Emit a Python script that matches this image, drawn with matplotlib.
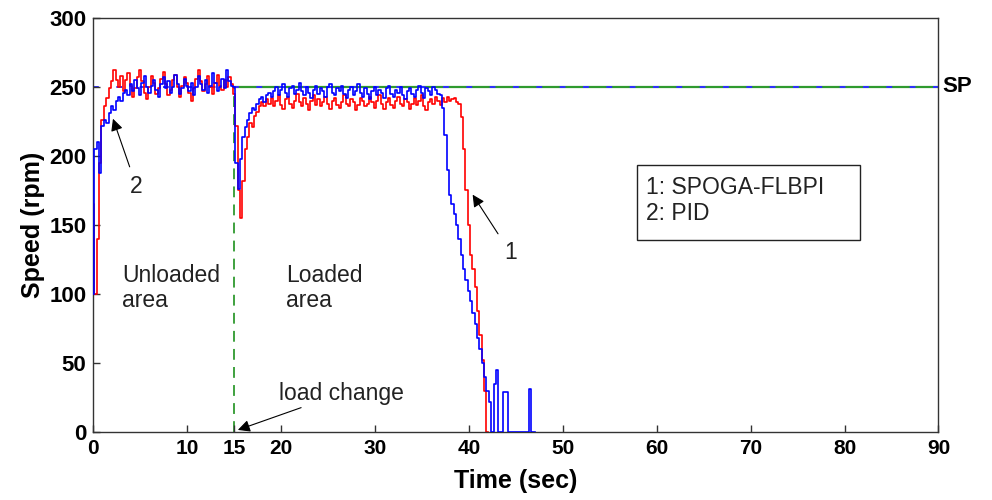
import numpy as np
import matplotlib
matplotlib.use("Agg")
import matplotlib.pyplot as plt
from matplotlib.patches import Rectangle

DT = 0.25  # sample step (s) used when reading the traces off the picture

# PID (curve 2, blue), samples every DT seconds starting at t = 0
pid_speed = [
    100, 205, 210, 188, 222, 226, 224, 231, 236, 233, 240, 243, 240, 246, 248, 244,
    252, 247, 255, 249, 244, 253, 258, 250, 246, 251,
    255, 248, 243, 252, 257, 249, 254, 246, 250, 259,
    252, 245, 249, 256, 251, 247, 253, 244, 250, 258,
    252, 248, 255, 246, 251, 260, 253, 247, 250, 256,
    249, 262, 254, 251,
    250, 195, 176, 198, 214, 221, 226, 231, 235, 233, 238, 241, 243, 239, 244, 246, 243,
    247, 250, 244, 248, 252, 246, 243, 249, 251, 245,
    248, 253, 247, 244, 250, 246, 242, 248, 251, 245,
    249, 247, 243, 250, 252, 246, 244, 249, 247, 251,
    245, 242, 248, 250, 244, 247, 252, 246, 243, 249,
    245, 241, 247, 250, 244, 248, 246, 242, 249, 251,
    245, 243, 248, 246, 250, 244, 241, 247, 249, 245,
    243, 248, 251, 246, 242, 249, 247, 244, 250, 248,
    245,
    244, 235, 215, 190, 172, 165, 158, 150, 140, 128, 118, 110, 102, 95, 86, 78,
    68, 60, 50, 40, 30, 22, 0, 35, 45, 0, 0, 29, 29, 0, 0, 0, 0, 0, 0, 0, 0, 0,
    31, 0, 0,
]

# SPOGA-FLBPI (curve 1, red), samples every DT seconds starting at t = 0
spoga_speed = [
    165, 100, 140, 195, 226, 236, 242, 249, 254, 262, 255, 250, 258,
    247, 255, 260, 251, 243, 249, 257, 262, 254, 246,
    241, 250, 258, 253, 245, 249, 256, 261, 252, 244,
    248, 255, 259, 250, 243, 251, 257, 253, 246, 240,
    249, 256, 262, 254, 247, 252, 258, 250, 245, 253,
    259, 251, 248, 255, 250, 257, 252,
    245, 222, 175, 155, 182, 205, 214, 224, 221, 229, 232, 236, 239, 236, 241,
    238, 242, 236, 240, 244, 237, 234, 241, 243, 238,
    235, 240, 245, 239, 236, 242, 238, 233, 240, 244,
    237, 241, 236, 239, 243, 238, 234, 240, 242, 237,
    235, 239, 244, 238, 236, 241, 239, 233, 237, 242,
    240, 236, 238, 243, 239, 235, 240, 244, 238, 234,
    239, 242, 237, 235, 240, 243, 238, 236, 241, 239,
    234, 238, 242, 237, 240, 244, 236, 233, 239, 241,
    238, 243, 240, 237, 242, 239, 243, 240, 241, 242,
    239,
    238, 228, 205, 175, 150, 128, 118, 105, 88, 70, 52, 30, 0,
]

setpoint = 250
load_change_time = 15
x_ticks = [0, 10, 15, 20, 30, 40, 50, 60, 70, 80, 90]
y_ticks = [0, 50, 100, 150, 200, 250, 300]
legend_lines = ["1: SPOGA-FLBPI", "2: PID"]

pid_t = np.arange(len(pid_speed)) * DT
spoga_t = np.arange(len(spoga_speed)) * DT

plt.rcParams['font.family'] = ['Liberation Sans', 'DejaVu Sans']

fig = plt.figure(figsize=(9.92, 5.0), dpi=100)
ax = fig.add_axes([0.094, 0.136, 0.852, 0.828])

GREEN = '#2f9a2f'
# setpoint and load change marker
ax.plot([load_change_time, 90], [setpoint, setpoint], color=GREEN, lw=1.6, zorder=1)
ax.plot([load_change_time, load_change_time], [0, setpoint], color=GREEN, lw=1.3,
        dashes=(6, 4), zorder=1)
ax.plot([0, 90], [setpoint, setpoint], color='#3030ff', lw=1.4, dashes=(3, 9), zorder=1.5)

ax.plot(spoga_t, spoga_speed, color='#ff0000', lw=1.2, drawstyle='steps-mid', zorder=2)
ax.plot(pid_t, pid_speed, color='#0000ff', lw=1.2, drawstyle='steps-mid', zorder=3)

ax.set_xlim(0, 90)
ax.set_ylim(0, 300)
ax.set_xticks(x_ticks)
ax.set_yticks(y_ticks)
ax.tick_params(direction='in', length=5, width=1, colors='#333333', labelcolor='black')
for lab in ax.get_yticklabels():
    lab.set_fontweight('bold')
    lab.set_fontsize(16)
for lab in ax.get_xticklabels():
    lab.set_fontweight('bold')
    lab.set_fontsize(15)
ax.tick_params(axis='x', pad=5)
ax.tick_params(axis='y', pad=5)
for s in ax.spines.values():
    s.set_color('#333333')
    s.set_linewidth(1.0)

ax.set_xlabel('Time (sec)', fontsize=18, fontweight='bold', labelpad=8)
ax.set_ylabel('Speed (rpm)', fontsize=18, fontweight='bold', labelpad=3)

txt = dict(fontsize=16.5, color='#222222')
ax.text(90.45, 250, 'SP', fontsize=16, fontweight='bold', va='center', ha='left',
        clip_on=False, color='black')
ax.text(3.1, 122, 'Unloaded\narea', va='top', ha='left', linespacing=1.12, **txt)
ax.text(20.5, 122, 'Loaded\narea', va='top', ha='left', linespacing=1.12, **txt)

arrow = dict(arrowstyle='-|>', color='black', lw=0.8, mutation_scale=18, shrinkA=4, shrinkB=0)
ax.annotate('2', xy=(2.1, 227), xytext=(4.6, 178), ha='center', va='center',
            arrowprops=arrow, **txt)
ax.annotate('1', xy=(40.4, 172), xytext=(44.4, 130), ha='center', va='center',
            arrowprops=arrow, **txt)
ax.annotate('load change', xy=(15.4, 1.5), xytext=(19.8, 28), ha='left', va='center',
            arrowprops=dict(arrow, shrinkA=0), **txt)

ax.add_patch(Rectangle((57.9, 139), 23.8, 54.5, fill=False, edgecolor='#222222', lw=1.0))
ax.text(58.9, 177.5, legend_lines[0], va='center', ha='left', **txt)
ax.text(58.9, 158.5, legend_lines[1], va='center', ha='left', **txt)

fig.savefig('out.png', dpi=100)
